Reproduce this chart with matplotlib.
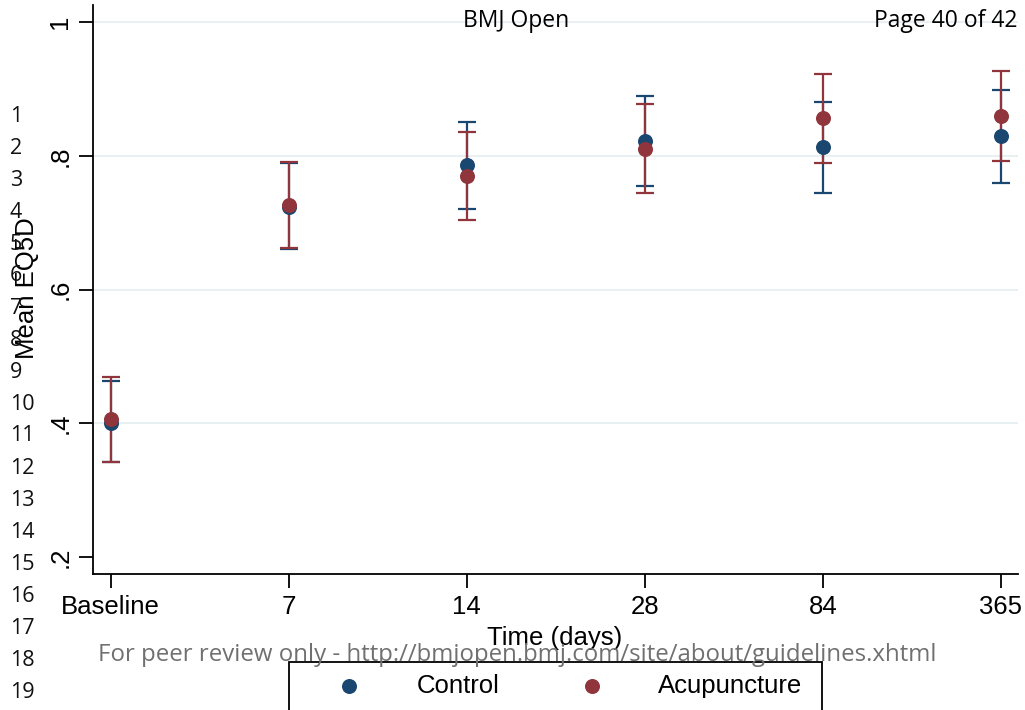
import matplotlib
matplotlib.use("Agg")
import matplotlib.pyplot as plt
from matplotlib.patches import Rectangle
from matplotlib.lines import Line2D
import numpy as np

# Follow-up time points
time_labels = ["Baseline", "7", "14", "28", "84", "365"]

# Mean EQ5D with 95% confidence limits
control_mean = [0.400, 0.724, 0.786, 0.822, 0.813, 0.829]
control_lo = [0.342, 0.661, 0.720, 0.755, 0.745, 0.760]
control_hi = [0.463, 0.789, 0.850, 0.889, 0.881, 0.899]

acup_mean = [0.406, 0.726, 0.770, 0.810, 0.856, 0.859]
acup_lo = [0.342, 0.662, 0.704, 0.744, 0.789, 0.792]
acup_hi = [0.469, 0.791, 0.835, 0.877, 0.922, 0.926]

y_ticks = [0.2, 0.4, 0.6, 0.8, 1.0]
y_tick_labels = [".2", ".4", ".6", ".8", "1"]

NAVY = "#1a476f"
MAROON = "#90353b"
GRID = "#e6eff1"

W, H = 1025, 710
fig = plt.figure(figsize=(W / 100, H / 100), dpi=100)
ax = fig.add_axes([93 / W, (H - 574) / H, (1018 - 93) / W, (574 - 5) / H])

x = np.arange(len(time_labels))

for mean, lo, hi, col, z in [
    (control_mean, control_lo, control_hi, NAVY, 3),
    (acup_mean, acup_lo, acup_hi, MAROON, 4),
]:
    mean = np.array(mean)
    err = [mean - np.array(lo), np.array(hi) - mean]
    ax.errorbar(x, mean, yerr=err, fmt="none", ecolor=col, elinewidth=1.6,
                capsize=6.5, capthick=1.6, zorder=z)
    ax.plot(x, mean, "o", color=col, markersize=10.8, zorder=z + 2,
            markeredgewidth=0)

ax.set_xlim(-0.1, 5.096)
ax.set_ylim(0.2 - 17 / 668.5, 1 + 17 / 668.5)

for yv in y_ticks[1:]:
    ax.axhline(yv, color=GRID, lw=1.3, zorder=0)

ax.set_yticks(y_ticks)
ax.set_yticklabels(y_tick_labels, rotation=90, va="center",
                   fontsize=18.5, family="Liberation Sans")
ax.set_xticks(x)
ax.set_xticklabels(time_labels, fontsize=18.5, family="Liberation Sans")
ax.tick_params(axis="both", length=10, width=1.3, direction="out", pad=5,
               colors="black")

for s in ["top", "right"]:
    ax.spines[s].set_visible(False)
for s in ["left", "bottom"]:
    ax.spines[s].set_linewidth(1.3)

# Axis titles
fig.text(27 / W, 1 - 288 / H, "Mean EQ5D", rotation=90, ha="center",
         va="center", fontsize=18.5, family="Liberation Sans")
fig.text(555 / W, 1 - 638 / H, "Time (days)", ha="center", va="center",
         fontsize=18.5, family="Liberation Sans")

# Page header
fig.text(516 / W, 1 - 21 / H, "BMJ Open", ha="center", va="center",
         fontsize=16.5, family="Open Sans")
fig.text(1018 / W, 1 - 21 / H, "Page 40 of 42", ha="right", va="center",
         fontsize=16.5, family="Open Sans")

# Manuscript line numbers
for i in range(1, 20):
    yp = 116 + (i - 1) * 32.0
    fig.text(10 / W, 1 - yp / H, str(i), ha="left", va="center",
             fontsize=15.5, family="Open Sans", color="#111111")

# Footer
fig.text(517 / W, 1 - 655 / H,
         "For peer review only - http://bmjopen.bmj.com/site/about/guidelines.xhtml",
         ha="center", va="center", fontsize=17.3, family="Open Sans",
         color="#707070", zorder=5)

# Legend box
box = Rectangle((289 / W, 1 - 716 / H), (822 - 289) / W, (716 - 662) / H,
                transform=fig.transFigure, fill=False, edgecolor="black",
                lw=1.3, clip_on=False)
fig.add_artist(box)
leg_y = 1 - 686 / H
for mx, tx, col, lab in [(349, 417, NAVY, "Control"),
                         (592, 658, MAROON, "Acupuncture")]:
    fig.add_artist(Line2D([mx / W], [leg_y], marker="o", color=col,
                          markersize=10.8, markeredgewidth=0,
                          transform=fig.transFigure))
    fig.text(tx / W, leg_y, lab, ha="left", va="center", fontsize=18.5,
             family="Liberation Sans")

fig.savefig("out.png", dpi=100)
